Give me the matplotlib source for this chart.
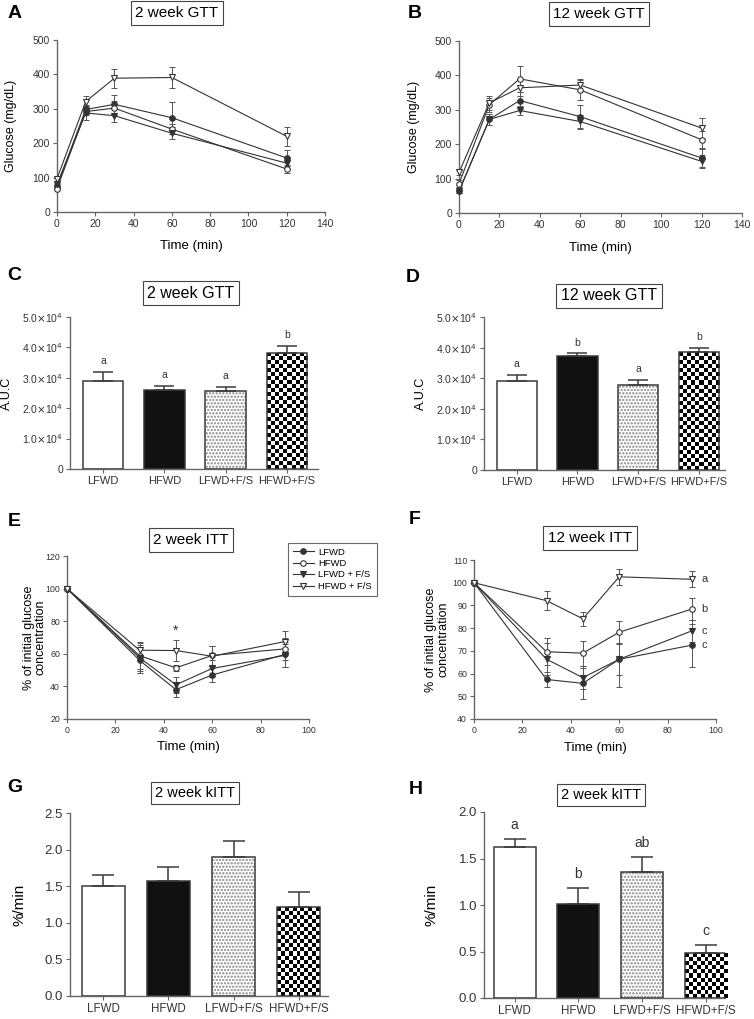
import matplotlib
matplotlib.use("Agg")
import matplotlib.pyplot as plt
import numpy as np

plt.rcParams["font.family"] = ["Liberation Sans", "DejaVu Sans"]
plt.rcParams["hatch.linewidth"] = 0.5

W, H = 754, 1019

groups = ["LFWD", "HFWD", "LFWD+F/S", "HFWD+F/S"]
legend_labels = ["LFWD", "HFWD", "LFWD + F/S", "HFWD + F/S"]

# A / B: GTT curves
gtt_time = [0, 15, 30, 60, 120]
gtt2_lfwd = [75, 298, 313, 274, 157]
gtt2_hfwd = [68, 292, 302, 241, 125]
gtt2_lfwd_fs = [80, 288, 280, 229, 142]
gtt2_hfwd_fs = [97, 321, 389, 391, 220]
gtt2_lfwd_err = [5, 12, 26, 47, 23]
gtt2_hfwd_err = [5, 10, 20, 15, 12]
gtt2_lfwd_fs_err = [5, 20, 18, 17, 15]
gtt2_hfwd_fs_err = [8, 17, 28, 30, 27]

gtt12_lfwd = [63, 272, 327, 280, 160]
gtt12_hfwd = [85, 315, 390, 358, 213]
gtt12_lfwd_fs = [63, 272, 298, 266, 150]
gtt12_hfwd_fs = [118, 320, 364, 372, 247]
gtt12_lfwd_err = [5, 15, 25, 35, 25]
gtt12_hfwd_err = [10, 20, 38, 30, 25]
gtt12_lfwd_fs_err = [5, 15, 12, 20, 20]
gtt12_hfwd_fs_err = [8, 20, 25, 18, 28]

# C / D: AUC
auc2 = [2.89e4, 2.61e4, 2.55e4, 3.83e4]
auc2_err = [0.31e4, 0.13e4, 0.16e4, 0.22e4]
auc2_letters = ["a", "a", "a", "b"]
auc12 = [2.90e4, 3.74e4, 2.78e4, 3.84e4]
auc12_err = [0.22e4, 0.07e4, 0.16e4, 0.16e4]
auc12_letters = ["a", "b", "a", "b"]

# E / F: ITT curves
itt_time = [0, 30, 45, 60, 90]
itt2_lfwd = [100, 56, 38, 47, 59.6]
itt2_hfwd = [100, 58.8, 51.4, 59, 63]
itt2_lfwd_fs = [100, 57.6, 41, 51, 59]
itt2_hfwd_fs = [100, 62.2, 62, 58.5, 67.5]
itt2_lfwd_err = [0, 8, 4.5, 4.5, 7.5]
itt2_hfwd_err = [0, 8, 2, 6, 7]
itt2_lfwd_fs_err = [0, 8, 5, 5, 7]
itt2_hfwd_fs_err = [0, 5, 6.4, 6, 6.5]

itt12_lfwd = [100, 57.4, 55.7, 66.3, 72.5]
itt12_hfwd = [100, 69.6, 69.0, 78.2, 88.4]
itt12_lfwd_fs = [100, 66.3, 58.2, 66.3, 78.8]
itt12_hfwd_fs = [100, 92.1, 84.1, 102.6, 101.5]
itt12_lfwd_err = [0, 3.5, 6.7, 12, 9.5]
itt12_hfwd_err = [0, 6, 5.5, 5, 4.7]
itt12_lfwd_fs_err = [0, 7, 5, 7, 5]
itt12_hfwd_fs_err = [0, 4.3, 3.2, 3.5, 3.6]
itt12_letters = ["c", "b", "c", "a"]

# G / H: kITT
kitt_g = [1.50, 1.57, 1.90, 1.21]
kitt_g_err = [0.15, 0.19, 0.22, 0.21]
kitt_h = [1.62, 1.01, 1.36, 0.48]
kitt_h_err = [0.09, 0.17, 0.16, 0.09]
kitt_h_letters = ["a", "b", "ab", "c"]

LINE = "#333333"
ERR = "#555555"
SPINE = "#666666"
TICK = "#333333"

# marker styles per group: filled circle, open circle, filled tri, open tri
markers = [("o", LINE), ("o", "white"), ("v", LINE), ("v", "white")]

fig = plt.figure(figsize=(W / 100, H / 100), dpi=100)


def add_ax(left, top, right, bottom):
    return fig.add_axes([left / W, 1 - bottom / H, (right - left) / W, (bottom - top) / H])


def style_ax(ax, tick_size):
    for s in ["top", "right"]:
        ax.spines[s].set_visible(False)
    for s in ["left", "bottom"]:
        ax.spines[s].set_color(SPINE)
        ax.spines[s].set_linewidth(1.0)
    ax.tick_params(colors=SPINE, labelcolor=TICK, labelsize=tick_size, length=3, width=0.8, pad=2)


def box_title(px, py, text, size=11):
    fig.text(px / W, 1 - py / H, text, ha="center", va="center", fontsize=size,
             bbox=dict(boxstyle="square,pad=0.3", fc="white", ec="#444444", lw=0.8))


def panel_letter(px, py, letter):
    fig.text(px / W, 1 - py / H, letter, ha="center", va="center", fontsize=14, fontweight="bold")


def curves(ax, t, series, errs):
    handles = []
    for (m, fc), y, e in zip(markers, series, errs):
        ax.errorbar(t, y, yerr=e, fmt="none", ecolor=ERR, elinewidth=0.7, capsize=2.2,
                    capthick=0.7, clip_on=False, zorder=2)
        h, = ax.plot(t, y, color=LINE, lw=0.8, marker=m, ms=4, mfc=fc, mec=LINE, mew=0.8,
                     clip_on=False, zorder=3)
        handles.append(h)
    return handles


def checker(ax, bar, cell=4):
    x0, w, h = bar.get_x(), bar.get_width(), bar.get_height()
    p0 = ax.transData.transform((x0, 0))
    p1 = ax.transData.transform((x0 + w, h))
    nx = max(1, int(round((p1[0] - p0[0]) / cell)))
    ny = max(1, int(round((p1[1] - p0[1]) / cell)))
    grid = np.add.outer(np.arange(ny), np.arange(nx)) % 2
    im = ax.imshow(grid, cmap="gray", extent=[x0, x0 + w, 0, h], aspect="auto",
                   interpolation="nearest", zorder=2)
    im.set_clip_path(bar)


def bars(ax, vals, errs, xlim, ylim, capsize, tick_size, cat_size):
    x = np.arange(len(vals))
    ax.set_xlim(*xlim)
    ax.set_ylim(*ylim)
    style_ax(ax, tick_size)
    faces = ["white", "#111111", "white", "white"]
    b = ax.bar(x, vals, width=0.66, color=faces, edgecolor="none", zorder=1)
    # dotted texture
    ax.bar(x[2], vals[2], width=0.66, color="white", edgecolor="#a5a5a5", hatch="ooooo",
           linewidth=0, zorder=2)
    checker(ax, b[3])
    ax.bar(x, vals, width=0.66, color="none", edgecolor="#3a3a3a", linewidth=1.1, zorder=3)
    ax.errorbar(x, vals, yerr=[np.zeros(len(vals)), errs], fmt="none", ecolor="#3a3a3a",
                elinewidth=1.1, capsize=capsize, capthick=1.1, zorder=4)
    ax.set_xticks(x)
    ax.set_xticklabels(groups, fontsize=cat_size)
    return x


# ---------- A ----------
axA = add_ax(57, 40, 325, 212)
style_ax(axA, 7.5)
curves(axA, gtt_time, [gtt2_lfwd, gtt2_hfwd, gtt2_lfwd_fs, gtt2_hfwd_fs],
       [gtt2_lfwd_err, gtt2_hfwd_err, gtt2_lfwd_fs_err, gtt2_hfwd_fs_err])
axA.set_xlim(0, 140)
axA.set_ylim(0, 500)
axA.set_xticks(range(0, 141, 20))
axA.set_yticks(range(0, 501, 100))
axA.set_ylabel("Glucose (mg/dL)", fontsize=9)
axA.yaxis.set_label_coords(-0.149, 0.5)
axA.set_xlabel("Time (min)", fontsize=9.5)
axA.xaxis.set_label_coords(0.5, -0.163)
panel_letter(15, 14, "A")
box_title(177, 13, "2 week GTT")

# ---------- B ----------
axB = add_ax(459, 41, 742, 213)
style_ax(axB, 7.5)
curves(axB, gtt_time, [gtt12_lfwd, gtt12_hfwd, gtt12_lfwd_fs, gtt12_hfwd_fs],
       [gtt12_lfwd_err, gtt12_hfwd_err, gtt12_lfwd_fs_err, gtt12_hfwd_fs_err])
axB.set_xlim(0, 140)
axB.set_ylim(0, 500)
axB.set_xticks(range(0, 141, 20))
axB.set_yticks(range(0, 501, 100))
axB.set_ylabel("Glucose (mg/dL)", fontsize=9)
axB.yaxis.set_label_coords(-0.138, 0.5)
axB.set_xlabel("Time (min)", fontsize=9.5)
axB.xaxis.set_label_coords(0.5, -0.169)
panel_letter(415, 14, "B")
box_title(599, 14, "12 week GTT")


def auc_fmt(v, pos):
    return "0" if v == 0 else f"{v / 1e4:.1f}$\\times$10$^{{4}}$"


# ---------- C ----------
axC = add_ax(70, 317, 318, 469)
xc = bars(axC, auc2, auc2_err, (-0.54, 3.51), (0, 5e4), 7.5, 7.5, 8)
axC.set_yticks(np.arange(0, 5.01e4, 1e4))
axC.yaxis.set_major_formatter(plt.FuncFormatter(auc_fmt))
for xi, v, e, s in zip(xc, auc2, auc2_err, auc2_letters):
    axC.annotate(s, (xi, v + e), xytext=(0, 4), textcoords="offset points",
                 ha="center", va="bottom", fontsize=7.5, color=TICK)
axC.set_ylabel("A.U.C", fontsize=9)
axC.yaxis.set_label_coords(-0.23, 0.5)
panel_letter(14, 275, "C")
box_title(191, 293, "2 week GTT", 11.5)

# ---------- D ----------
axD = add_ax(484, 317, 725, 470)
xd = bars(axD, auc12, auc12_err, (-0.54, 3.43), (0, 5e4), 7.5, 7.5, 8)
axD.set_yticks(np.arange(0, 5.01e4, 1e4))
axD.yaxis.set_major_formatter(plt.FuncFormatter(auc_fmt))
for xi, v, e, s in zip(xd, auc12, auc12_err, auc12_letters):
    axD.annotate(s, (xi, v + e), xytext=(0, 4), textcoords="offset points",
                 ha="center", va="bottom", fontsize=7.5, color=TICK)
axD.set_ylabel("A.U.C", fontsize=9)
axD.yaxis.set_label_coords(-0.237, 0.5)
panel_letter(413, 278, "D")
box_title(609, 296, "12 week GTT", 11.5)

# ---------- E ----------
axE = add_ax(67, 556, 309, 719)
style_ax(axE, 6.3)
hE = curves(axE, itt_time, [itt2_lfwd, itt2_hfwd, itt2_lfwd_fs, itt2_hfwd_fs],
            [itt2_lfwd_err, itt2_hfwd_err, itt2_lfwd_fs_err, itt2_hfwd_fs_err])
axE.set_xlim(0, 100)
axE.set_ylim(20, 120)
axE.set_xticks(range(0, 101, 20))
axE.set_yticks(range(20, 121, 20))
axE.text(45, 74, "*", ha="center", va="center", fontsize=10, color=TICK)
axE.set_ylabel("% of initial glucose\nconcentration", fontsize=9, linespacing=1.0)
axE.yaxis.set_label_coords(-0.083, 0.5)
axE.set_xlabel("Time (min)", fontsize=9.5)
axE.xaxis.set_label_coords(0.5, -0.135)
leg = fig.legend(hE, legend_labels, loc="upper left", bbox_to_anchor=(288 / W, 1 - 543 / H),
                 fontsize=6.8, frameon=True, fancybox=False, edgecolor="#444444",
                 handlelength=2.2, handletextpad=0.5, labelspacing=0.25, borderpad=0.5,
                 borderaxespad=0)
leg.get_frame().set_linewidth(0.8)
panel_letter(14, 521, "E")
box_title(191, 540, "2 week ITT")

# ---------- F ----------
axF = add_ax(474, 560, 716, 719)
style_ax(axF, 6.3)
f_series = [itt12_lfwd, itt12_hfwd, itt12_lfwd_fs, itt12_hfwd_fs]
curves(axF, itt_time, f_series,
       [itt12_lfwd_err, itt12_hfwd_err, itt12_lfwd_fs_err, itt12_hfwd_fs_err])
axF.set_xlim(0, 100)
axF.set_ylim(40, 110)
axF.set_xticks(range(0, 101, 20))
axF.set_yticks(range(40, 111, 10))
for y, s in zip(f_series, itt12_letters):
    axF.annotate(s, (itt_time[-1], y[-1]), xytext=(9, 0), textcoords="offset points",
                 ha="center", va="center", fontsize=8, color=TICK)
axF.set_ylabel("% of initial glucose\nconcentration", fontsize=9, linespacing=1.0)
axF.yaxis.set_label_coords(-0.103, 0.5)
axF.set_xlabel("Time (min)", fontsize=9.5)
axF.xaxis.set_label_coords(0.5, -0.145)
panel_letter(415, 520, "F")
box_title(590, 538, "12 week ITT")

# ---------- G ----------
axG = add_ax(70, 813, 328, 996)
bars(axG, kitt_g, kitt_g_err, (-0.51, 3.45), (0, 2.5), 7.8, 9.5, 8.3)
axG.set_yticks(np.arange(0, 2.51, 0.5))
axG.yaxis.set_major_formatter(plt.FormatStrFormatter("%.1f"))
axG.set_ylabel("%/min", fontsize=11)
axG.yaxis.set_label_coords(-0.167, 0.5)
panel_letter(15, 788, "G")
box_title(195, 793, "2 week kITT", 10.5)

# ---------- H ----------
axH = add_ax(484, 812, 725, 998)
xh = bars(axH, kitt_h, kitt_h_err, (-0.48, 3.3), (0, 2.0), 7.8, 9.5, 8.3)
axH.set_yticks(np.arange(0, 2.01, 0.5))
axH.yaxis.set_major_formatter(plt.FormatStrFormatter("%.1f"))
for xi, v, e, s in zip(xh, kitt_h, kitt_h_err, kitt_h_letters):
    axH.annotate(s, (xi, v + e), xytext=(0, 5), textcoords="offset points",
                 ha="center", va="bottom", fontsize=10, color=TICK)
axH.set_ylabel("%/min", fontsize=11)
axH.yaxis.set_label_coords(-0.187, 0.5)
panel_letter(416, 789, "H")
box_title(601, 795, "2 week kITT", 10.5)

fig.savefig("out.png", dpi=100)
